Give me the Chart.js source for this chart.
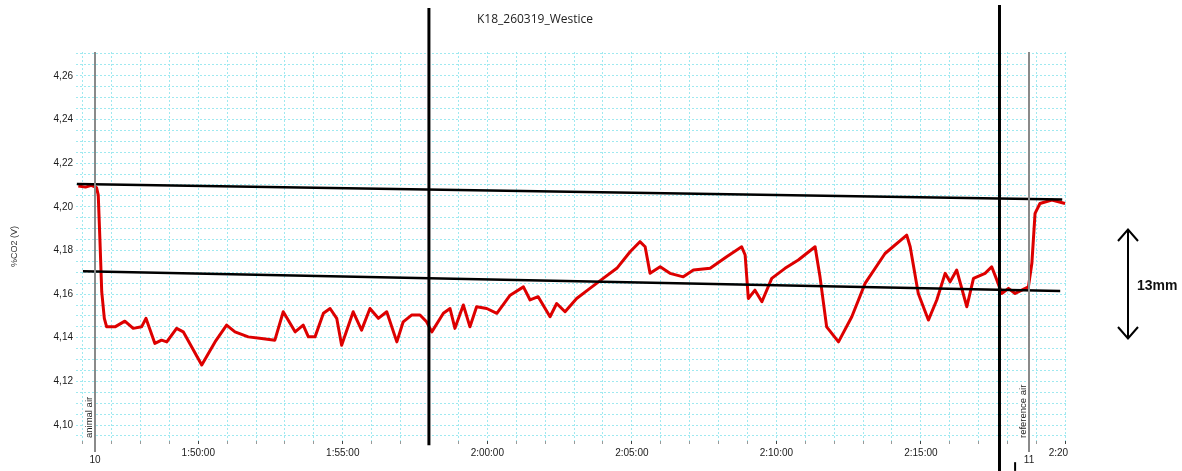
<!DOCTYPE html>
<html><head><meta charset="utf-8">
<script src="https://cdn.jsdelivr.net/npm/chart.js@4"></script>
<style>
html,body{margin:0;padding:0;background:#fff;}
#wrap{position:relative;width:1182px;height:471px;overflow:hidden;background:#fff;}
#clip{position:absolute;left:0;top:0;width:1068px;height:471px;overflow:hidden;}
#box{position:absolute;left:0;top:0;width:1100px;height:471px;}
#title{position:absolute;left:0;width:1070px;top:10px;text-align:center;font:12px "Open Sans",sans-serif;color:#222;}
#note{position:absolute;left:0;top:0;pointer-events:none;}
</style></head><body>
<div id="wrap">
  <div id="clip"><div id="box"><canvas id="c"></canvas></div></div>
  <div id="title">K18_260319_Westice</div>
  <svg id="note" width="1182" height="471">
    <line x1="1128" y1="230" x2="1128" y2="337" stroke="#000" stroke-width="2"/>
    <polyline points="1118,241 1128,229.5 1138,241" fill="none" stroke="#000" stroke-width="2"/>
    <polyline points="1118,327 1128,338.5 1138,327" fill="none" stroke="#000" stroke-width="2"/>
    <text x="1137" y="290" font-family="Liberation Sans, Arial, sans-serif" font-weight="bold" font-size="14" fill="#111">13mm</text>
  </svg>
</div>
<script>
// time in minutes of the day (110 = 1:50:00)
const times = [
  105.85,106.10,106.30,106.48,106.54,106.60,106.66,106.75,106.83,107.12,
  107.46,107.75,108.04,108.19,108.50,108.73,108.91,109.25,109.48,110.12,
  110.58,110.98,111.27,111.73,112.19,112.65,112.94,113.35,113.63,113.81,
  114.04,114.33,114.56,114.79,114.96,115.36,115.65,115.94,116.23,116.52,
  116.87,117.09,117.38,117.67,117.90,118.08,118.48,118.71,118.88,119.17,
  119.40,119.63,119.98,120.33,120.79,121.25,121.48,121.76,122.17,122.40,
  122.69,123.09,123.55,124.01,124.48,124.94,125.28,125.46,125.63,125.98,
  126.32,126.78,127.13,127.71,128.28,128.80,128.92,129.03,129.26,129.50,
  129.84,130.30,130.76,131.34,131.51,131.74,132.15,132.61,133.07,133.76,
  134.51,134.63,134.91,135.26,135.55,135.84,136.01,136.24,136.59,136.82,
  137.22,137.45,137.63,137.80,138.03,138.26,138.72,138.84,138.95,139.12,
  139.53,139.99
];
const co2 = [
  4.2095,4.2090,4.2098,4.2088,4.2053,4.1840,4.1611,4.1489,4.1450,4.1450,
  4.1476,4.1443,4.1450,4.1489,4.1374,4.1389,4.1381,4.1443,4.1427,4.1275,
  4.1381,4.1458,4.1427,4.1404,4.1397,4.1389,4.1519,4.1427,4.1458,4.1404,
  4.1404,4.1512,4.1534,4.1489,4.1366,4.1519,4.1435,4.1534,4.1489,4.1519,
  4.1381,4.1473,4.1504,4.1504,4.1473,4.1427,4.1512,4.1534,4.1443,4.1550,
  4.1450,4.1542,4.1534,4.1512,4.1595,4.1633,4.1573,4.1588,4.1496,4.1557,
  4.1519,4.1580,4.1626,4.1672,4.1718,4.1794,4.1840,4.1817,4.1695,4.1725,
  4.1695,4.1679,4.1710,4.1718,4.1771,4.1817,4.1779,4.1580,4.1618,4.1565,
  4.1672,4.1718,4.1756,4.1817,4.1679,4.1450,4.1381,4.1496,4.1649,4.1786,
  4.1870,4.1817,4.1603,4.1481,4.1573,4.1695,4.1656,4.1710,4.1542,4.1672,
  4.1695,4.1725,4.1664,4.1603,4.1626,4.1603,4.1633,4.1741,4.1970,4.2015,
  4.2031,4.2015
];
// hand-drawn reference lines (time, value pairs)
const upperLineT = [105.80, 139.89];
const upperLineV = [4.2104, 4.2033];
const lowerLineT = [106.01, 139.82];
const lowerLineV = [4.1705, 4.1614];
// hand-drawn vertical marks: time, value top, value bottom
const vMarkT = [117.98, 137.72, 138.26];
const vMarkTop = [4.2911, 4.2924, 4.0830];
const vMarkBot = [4.0908, 4.0790, 4.0790];
// event markers
const markerT = [106.43, 138.73];
const markerName = ['animal air', 'reference air'];
const markerNum = ['10', '11'];
const xMin = 105.77, xMax = 140.09;
const yMin = 4.0927, yMax = 4.2709;
const yTitle = '%CO2 (V)';

function fmtTime(m) {
  const r = Math.round(m);
  const h = Math.floor(r / 60);
  const mm = r - h * 60;
  return h + ':' + String(mm).padStart(2, '0') + ':00';
}

const series = times.map((t, i) => ({x: t, y: co2[i]}));
const up = upperLineT.map((t, i) => ({x: t, y: upperLineV[i]}));
const lo = lowerLineT.map((t, i) => ({x: t, y: lowerLineV[i]}));

const TICKFONT = {family: '"Liberation Sans", Arial, sans-serif', size: 10};
const GRID = '#9fe9f0';

const overlay = {
  id: 'overlay',
  afterDatasetsDraw(chart) {
    const {ctx, chartArea: a, scales: {x}} = chart;
    ctx.save();
    markerT.forEach((t, i) => {
      const px = Math.round(x.getPixelForValue(t));
      ctx.strokeStyle = '#8a8a8a';
      ctx.lineWidth = 2;
      ctx.beginPath(); ctx.moveTo(px, a.top); ctx.lineTo(px, a.bottom + 11); ctx.stroke();
      ctx.font = '9.5px "Liberation Sans", Arial, sans-serif';
      const w = ctx.measureText(markerName[i]).width;
      ctx.save();
      ctx.translate(px - 6, a.bottom - 3);
      ctx.rotate(-Math.PI / 2);
      ctx.fillStyle = '#fff';
      ctx.fillRect(-1, -5, w + 2, 10);
      ctx.fillStyle = '#222';
      ctx.textAlign = 'left'; ctx.textBaseline = 'middle';
      ctx.fillText(markerName[i], 0, 0);
      ctx.restore();
      ctx.font = '10px "Liberation Sans", Arial, sans-serif';
      ctx.fillStyle = '#222';
      ctx.textAlign = 'center'; ctx.textBaseline = 'middle';
      ctx.fillText(markerNum[i], px, a.bottom + 19);
    });
    ctx.restore();
  },
  afterDraw(chart) {
    const {ctx, scales: {x, y}} = chart;
    ctx.save();
    ctx.strokeStyle = '#000';
    vMarkT.forEach((t, i) => {
      const px = x.getPixelForValue(t);
      ctx.lineWidth = i < 2 ? 3 : 2;
      ctx.beginPath();
      ctx.moveTo(px, y.getPixelForValue(vMarkTop[i]));
      ctx.lineTo(px, y.getPixelForValue(vMarkBot[i]));
      ctx.stroke();
    });
    ctx.restore();
  }
};

new Chart(document.getElementById('c'), {
  type: 'line',
  data: {
    datasets: [
      {data: up, borderColor: '#000', borderWidth: 2.5, pointRadius: 0, order: 0},
      {data: lo, borderColor: '#000', borderWidth: 2.5, pointRadius: 0, order: 0},
      {data: series, borderColor: '#dd0000', borderWidth: 3, pointRadius: 0, tension: 0, order: 1, borderJoinStyle: 'round'}
    ]
  },
  options: {
    responsive: true,
    maintainAspectRatio: false,
    animation: false,
    parsing: false,
    layout: {padding: {top: 52, right: 32, bottom: 0, left: 0}},
    plugins: {legend: {display: false}, tooltip: {enabled: false}},
    scales: {
      x: {
        type: 'linear', min: xMin, max: xMax,
        afterFit(s) { s.height = 30; },
        border: {display: false, dash: [2, 2]},
        grid: {color: GRID, lineWidth: 1, tickLength: 3,
               tickColor: c => (c.tick && Math.round(c.tick.value) % 5 === 0) ? '#444' : '#999'},
        ticks: {
          stepSize: 1, includeBounds: false, autoSkip: false, maxRotation: 0, minRotation: 0,
          padding: 3, color: '#1a1a1a', font: TICKFONT,
          callback: v => (Math.abs(v - Math.round(v)) < 1e-6 && Math.round(v) % 5 === 0) ? fmtTime(v) : ''
        }
      },
      y: {
        min: yMin, max: yMax,
        afterFit(s) { s.width = 76; },
        border: {display: false, dash: [2, 2]},
        grid: {color: GRID, lineWidth: 1, drawTicks: false},
        title: {display: true, text: yTitle, color: '#333',
                font: {family: '"Liberation Sans", Arial, sans-serif', size: 9},
                padding: {top: 9, bottom: 0}},
        ticks: {
          stepSize: 0.005, includeBounds: false, autoSkip: false, padding: 3,
          color: '#1a1a1a', font: TICKFONT,
          callback: v => (Math.round(v * 1000) % 20 === 0) ? v.toFixed(2).replace('.', ',') : ''
        }
      }
    }
  },
  plugins: [overlay]
});
</script>
</body></html>
